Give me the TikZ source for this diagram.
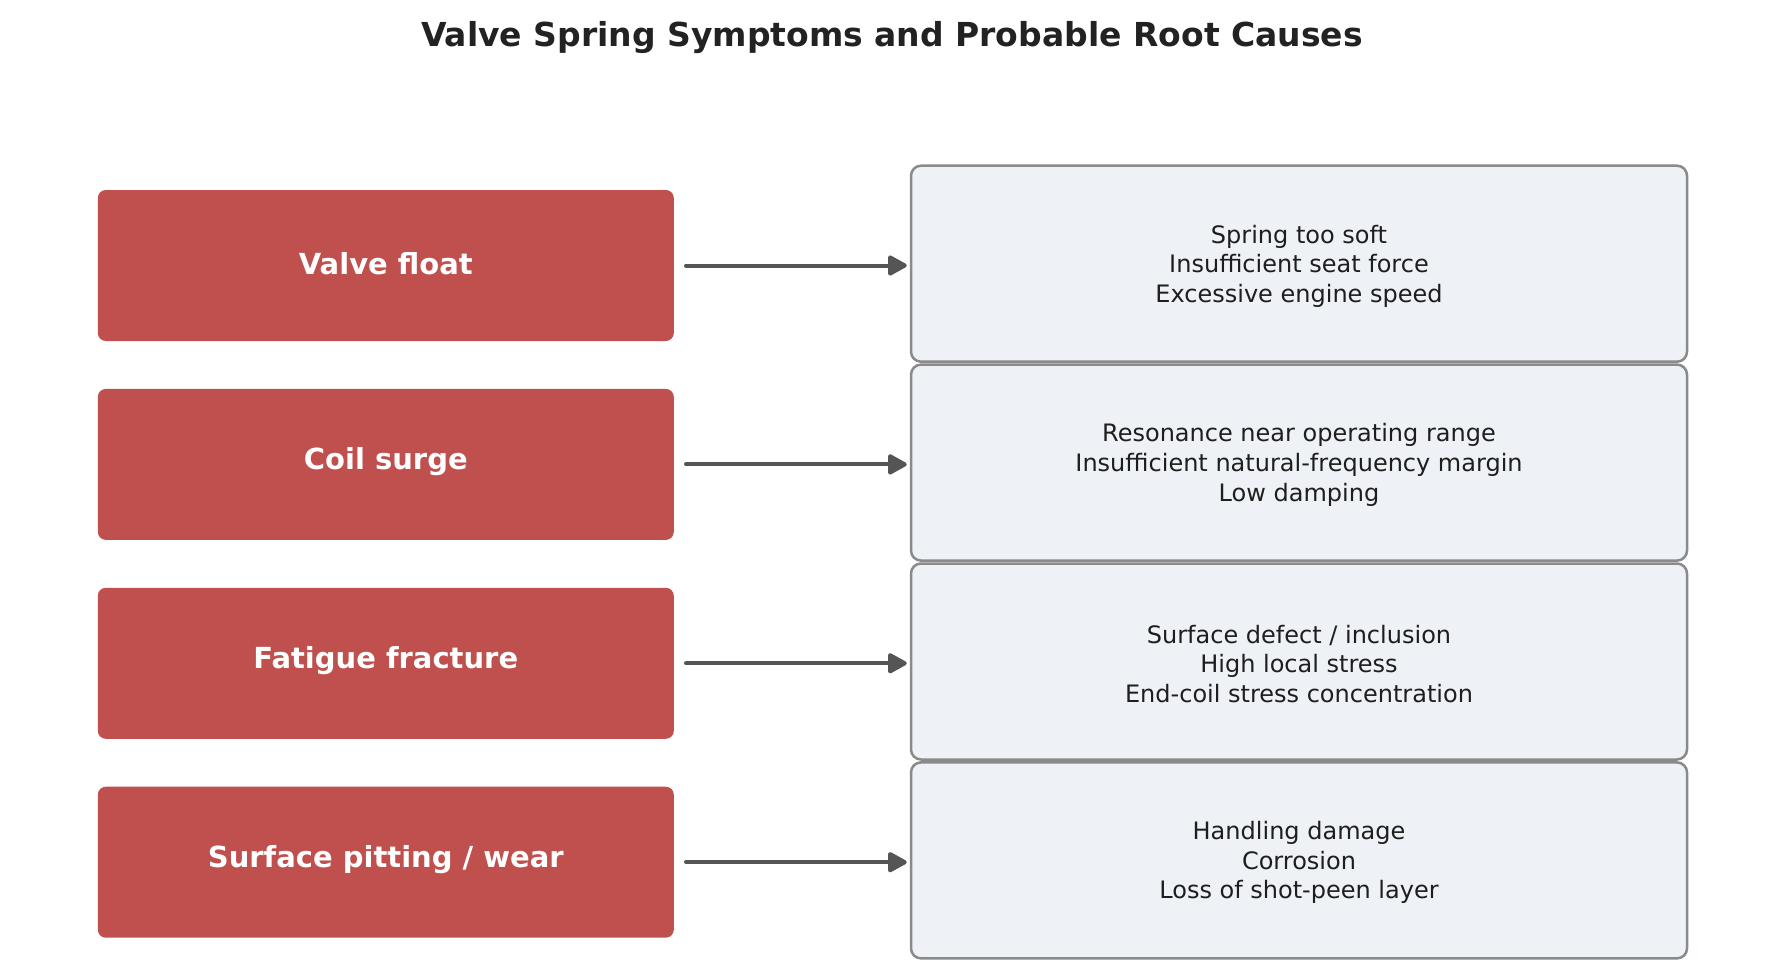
\documentclass[tikz,border=0pt]{standalone}
\usepackage{fontspec}
\setmainfont{DejaVu Sans}
\usetikzlibrary{arrows.meta}
\definecolor{symred}{HTML}{C0504D}
\definecolor{causefill}{HTML}{EEF1F6}
\definecolor{causeborder}{HTML}{8A8A8A}
\definecolor{arrowgray}{HTML}{555555}
\definecolor{titlegray}{HTML}{222222}
\definecolor{textgray}{HTML}{1E1E1E}
\begin{document}
\begin{tikzpicture}[x=1pt,y=-1pt,
  symptom/.style={fill=symred, draw=none, rounded corners=8pt, minimum width=576pt, minimum height=151pt,
    inner sep=0pt},
  symtext/.style={inner sep=0pt, text=white, font=\fontsize{29}{35}\selectfont\bfseries},
  cause/.style={fill=causefill, draw=causeborder, line width=2.5pt, rounded corners=10pt,
    minimum width=776pt, minimum height=196pt, inner sep=0pt},
  causetext/.style={inner sep=0pt, text=textgray, align=center,
    font=\fontsize{24}{29.6}\selectfont},
  link/.style={draw=arrowgray, line width=4pt, line cap=round,
    -{Triangle[length=21pt,width=22pt,round]}},
  titlestyle/.style={text=titlegray, font=\fontsize{33}{39}\selectfont\bfseries, inner sep=0pt}]
\useasboundingbox (0,0) rectangle (1780,979);
\node[titlestyle] (title) at (892,37.5) {Valve Spring Symptoms and Probable Root Causes};

\node[symptom] (s1) at (385.8,265.5) {};
\node[symptom] (s2) at (385.8,464.4) {};
\node[symptom] (s3) at (385.8,663.3) {};
\node[symptom] (s4) at (385.8,862.2) {};
\node[symtext] (s1t) at ([yshift=2.3pt]s1.center) {Valve float};
\node[symtext] (s2t) at ([yshift=2.3pt]s2.center) {Coil surge};
\node[symtext] (s3t) at ([yshift=2.3pt]s3.center) {Fatigue fracture};
\node[symtext] (s4t) at ([yshift=2.3pt]s4.center) {Surface pitting / wear};

\node[cause] (c1) at (1299,263.7) {};
\node[cause] (c2) at (1299,462.6) {};
\node[cause] (c3) at (1299,661.5) {};
\node[cause] (c4) at (1299,860.4) {};
\node[causetext] (c1t) at ([yshift=-2.3pt]c1.center) {Spring too soft\\Insufficient seat force\\Excessive engine speed};
\node[causetext] (c2t) at ([yshift=-2.3pt]c2.center) {Resonance near operating range\\Insufficient natural-frequency margin\\Low damping};
\node[causetext] (c3t) at ([yshift=-2.3pt]c3.center) {Surface defect / inclusion\\High local stress\\End-coil stress concentration};
\node[causetext] (c4t) at ([yshift=-2.3pt]c4.center) {Handling damage\\Corrosion\\Loss of shot-peen layer};

\foreach \i in {1,2,3,4}{
  \draw[link] ([xshift=12pt]s\i.east) -- ([xshift=-3pt]s\i.east -| c\i.west);
}
\end{tikzpicture}
\end{document}
